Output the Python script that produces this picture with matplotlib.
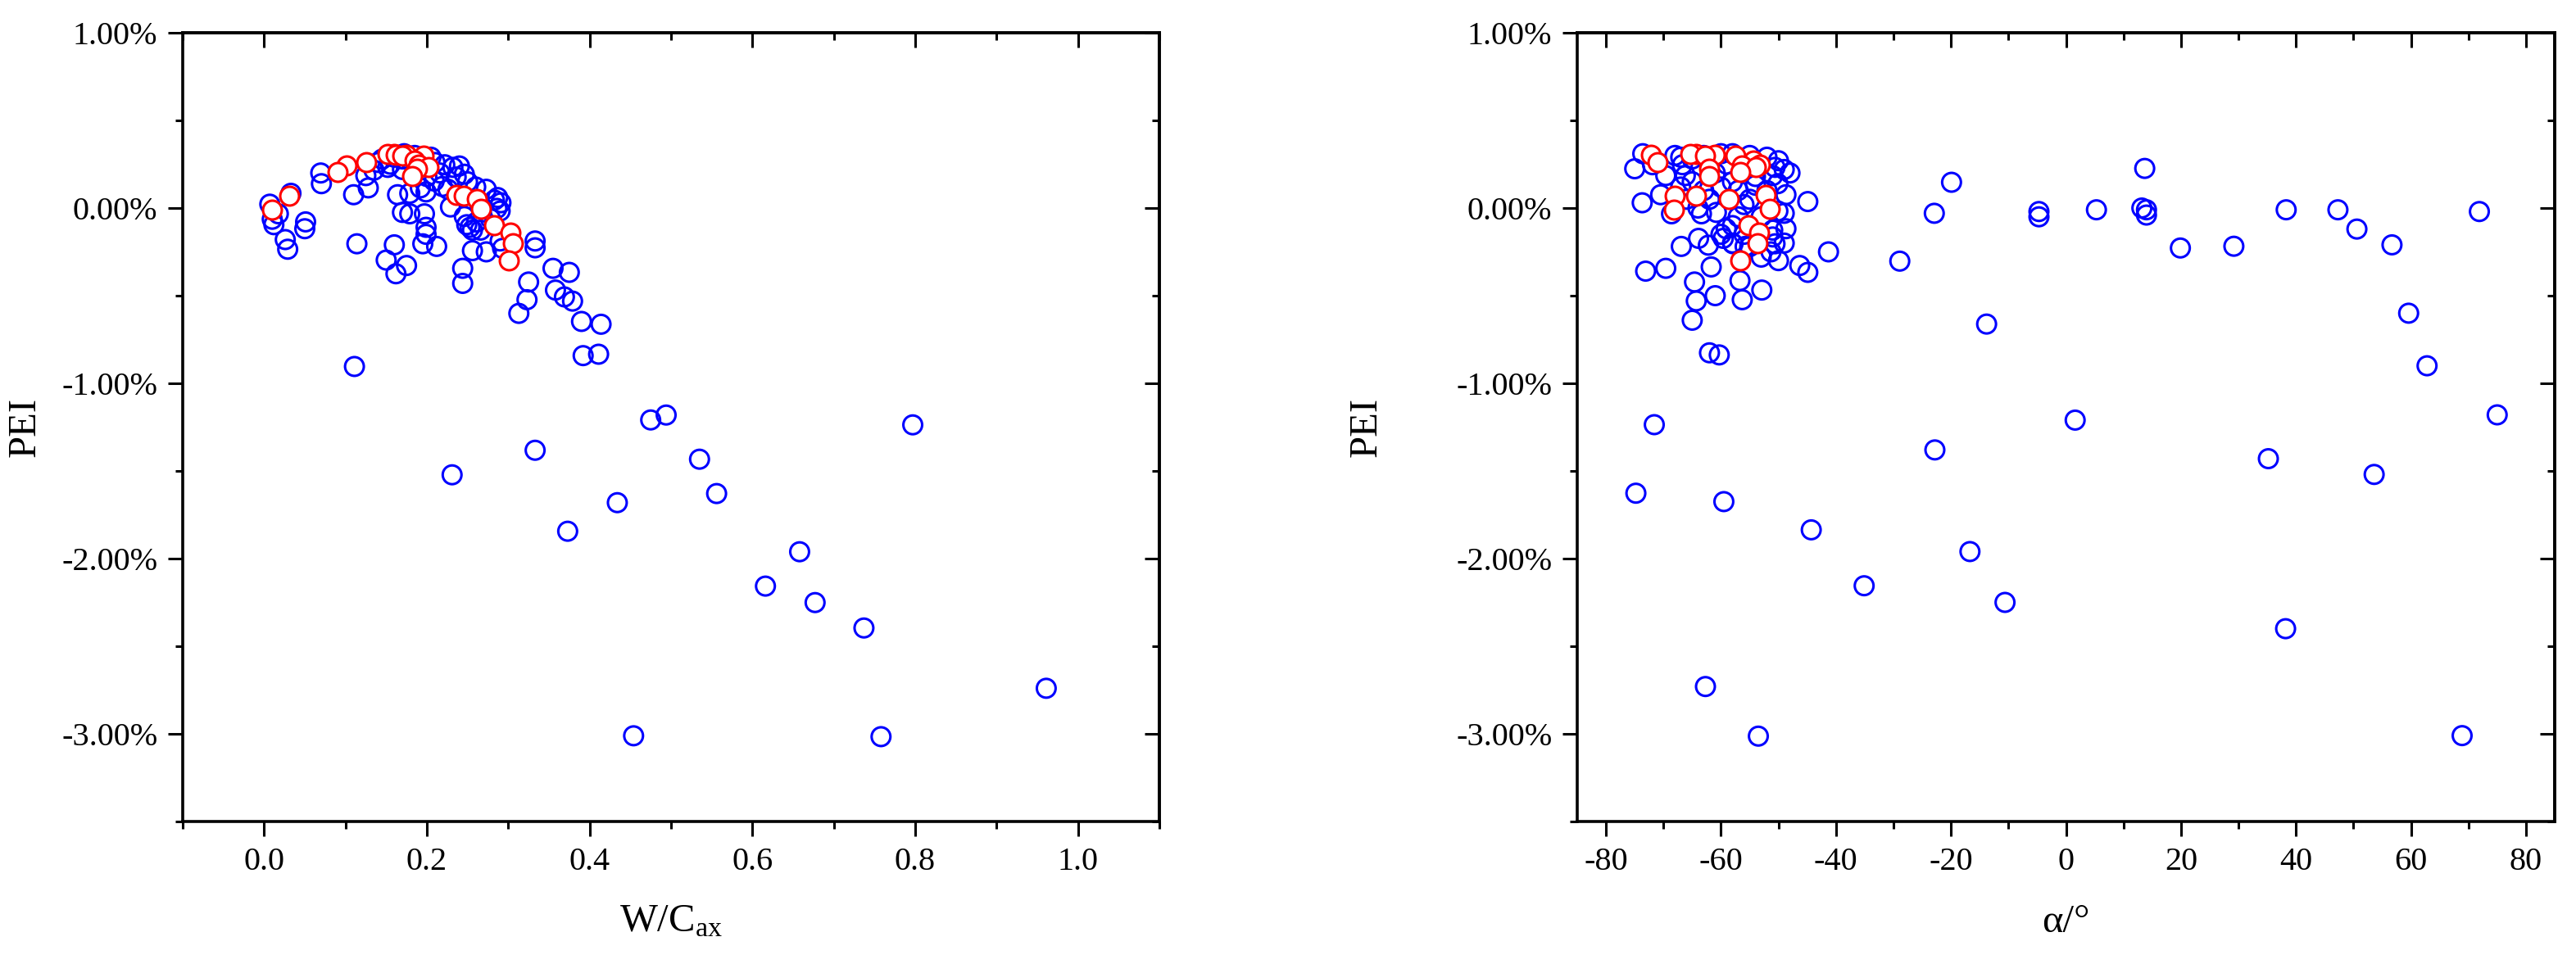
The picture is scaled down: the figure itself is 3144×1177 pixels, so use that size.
import numpy as np
import matplotlib.pyplot as plt
from matplotlib.ticker import MultipleLocator, FuncFormatter

plt.rcParams['font.family'] = ['Liberation Serif', 'DejaVu Serif']
plt.rcParams['mathtext.fontset'] = 'custom'
plt.rcParams['mathtext.rm'] = 'Liberation Serif'
plt.rcParams['mathtext.it'] = 'Liberation Serif:italic'

# ---- data (PEI in %) ----
# blue points, left panel: W/Cax vs PEI
w_blue = [0.494, 0.475, 0.797, 0.333, 0.231, 0.535, 0.556, 0.434, 0.373, 0.658,
          0.616, 0.677, 0.737, 0.961, 0.454, 0.758, 0.111,
          0.007, 0.012, 0.0175, 0.010, 0.033, 0.026, 0.029, 0.051, 0.050, 0.0696,
          0.0704, 0.110, 0.128, 0.114, 0.135, 0.145, 0.152, 0.164, 0.179, 0.192,
          0.199, 0.170, 0.179, 0.197, 0.199, 0.199, 0.195, 0.212, 0.160, 0.150,
          0.175, 0.162, 0.209, 0.216, 0.219, 0.232, 0.236, 0.246, 0.226, 0.229,
          0.246, 0.249, 0.256, 0.256, 0.244, 0.244, 0.273, 0.283, 0.286, 0.266,
          0.273, 0.290, 0.333, 0.333, 0.325, 0.323, 0.313, 0.355, 0.375, 0.358,
          0.369, 0.379, 0.390, 0.414, 0.392, 0.411,
          0.125, 0.140, 0.160, 0.170, 0.180, 0.210, 0.222, 0.240, 0.155, 0.170,
          0.190, 0.200, 0.250, 0.260, 0.287, 0.291, 0.290, 0.253, 0.261, 0.293,
          0.185, 0.205, 0.172, 0.265, 0.278]
pei_w_blue = [-1.181, -1.209, -1.237, -1.382, -1.522, -1.433, -1.629, -1.681, -1.844, -1.961,
              -2.157, -2.251, -2.396, -2.740, -3.011, -3.016, -0.904,
              0.022, -0.095, -0.033, -0.064, 0.084, -0.180, -0.235, -0.079, -0.118, 0.200,
              0.139, 0.076, 0.115, -0.204, 0.216, 0.279, 0.232, 0.076, 0.084, 0.115,
              0.092, -0.025, -0.033, -0.033, -0.110, -0.150, -0.204, -0.219, -0.210, -0.297,
              -0.328, -0.375, 0.154, 0.200, 0.123, 0.232, 0.177, 0.193, 0.107, 0.006,
              -0.048, -0.095, -0.126, -0.243, -0.344, -0.430, 0.107, 0.045, -0.002, -0.126,
              -0.250, -0.188, -0.188, -0.227, -0.422, -0.523, -0.601, -0.344, -0.367, -0.468,
              -0.507, -0.531, -0.647, -0.663, -0.842, -0.834,
              0.185, 0.260, 0.290, 0.280, 0.270, 0.260, 0.247, 0.240, 0.250, 0.220,
              0.240, 0.180, 0.150, 0.120, 0.060, 0.030, -0.017, -0.110, -0.080, -0.230,
              0.300, 0.290, 0.310, 0.020, -0.060]

# blue points, right panel: alpha vs PEI
a_blue = [-28.9, -22.9, -19.9, -13.8, -4.7, -4.7, 5.3, 13.7, 13.2, 14.0,
          14.0, 19.9, 29.2, 38.3, 47.3, 50.6, 56.7, 59.6, 62.8, 75.0,
          71.9, -22.8, 1.6, 35.2, 53.6, -16.7, -10.6, 38.2, 68.9, -71.6,
          -74.8, -59.5, -44.3, -35.1, -62.7, -53.5,
          -75.0, -73.6, -73.7, -73.1, -69.6, -70.5, -68.6, -71.9, -69.6, -66.7,
          -66.2, -66.9, -64.6, -64.3, -65.0, -61.0, -61.7, -63.9, -62.2, -63.4,
          -60.8, -59.1, -56.7, -56.3, -52.9, -62.0, -60.3, -51.0, -48.7, -50.6,
          -51.3, -46.3, -44.9, -41.3, -44.9, -48.7, -51.0, -50.6, -50.1, -50.1,
          -68.0, -67.0, -65.0, -63.0, -60.0, -58.0, -55.0, -52.0, -50.0, -49.0,
          -48.0, -67.0, -65.0, -63.0, -62.0, -60.0, -58.0, -57.0, -56.0, -55.0,
          -54.0, -53.0, -57.0, -58.0, -56.0, -55.0, -58.0, -60.0, -64.0, -66.0,
          -61.0, -59.0, -54.0, -52.0, -49.0, -49.0, -50.0, -53.0, -57.9, -59.6,
          -55.8, -51.0]
pei_a_blue = [-0.303, -0.030, 0.147, -0.662, -0.020, -0.050, -0.010, 0.226, 0.000, -0.010,
              -0.040, -0.228, -0.218, -0.010, -0.010, -0.120, -0.210, -0.600, -0.900, -1.180,
              -0.020, -1.380, -1.210, -1.430, -1.520, -1.960, -2.250, -2.400, -3.010, -1.236,
              -1.627, -1.675, -1.836, -2.155, -2.730, -3.013,
              0.224, 0.310, 0.030, -0.360, -0.344, 0.076, -0.033, 0.247, 0.185, 0.247,
              0.185, -0.219, -0.422, -0.530, -0.640, -0.500, -0.336, -0.173, -0.212, -0.033,
              -0.025, -0.118, -0.414, -0.523, -0.468, -0.826, -0.838, -0.126, -0.118, -0.204,
              -0.250, -0.328, -0.367, -0.250, 0.037, 0.076, 0.185, 0.232, 0.139, -0.017,
              0.300, 0.290, 0.280, 0.300, 0.310, 0.310, 0.300, 0.290, 0.270, 0.220,
              0.200, 0.120, 0.150, 0.100, 0.050, 0.120, 0.150, 0.100, 0.020, 0.050,
              0.130, -0.050, -0.050, -0.100, -0.150, -0.220, -0.200, -0.150, 0.000, 0.050,
              0.200, 0.250, 0.180, 0.100, -0.030, -0.200, -0.300, -0.280, -0.204, -0.173,
              -0.219, -0.165]

# red points (shared PEI)
pei_red = [0.310, 0.310, 0.305, 0.302, 0.298, 0.300, 0.270, 0.263, 0.245, 0.247,
           0.232, 0.222, 0.205, 0.180, 0.076, 0.071, 0.071, 0.053, -0.005, -0.009,
           -0.100, -0.138, -0.200, -0.300]
w_red = [0.160, 0.152, 0.175, 0.162, 0.196, 0.170, 0.185, 0.125, 0.101, 0.190,
         0.202, 0.188, 0.090, 0.182, 0.236, 0.031, 0.245, 0.261, 0.266, 0.010,
         0.283, 0.303, 0.306, 0.301]
a_red = [-64.3, -65.3, -61.0, -72.2, -62.7, -57.5, -54.4, -71.0, -56.3, -53.2,
         -53.9, -62.0, -56.7, -62.0, -52.2, -68.1, -64.3, -58.6, -51.5, -68.2,
         -55.2, -53.4, -53.6, -56.7]

fig = plt.figure(figsize=(31.44, 11.77), dpi=100)
W, H = 3144, 1177
ax1 = fig.add_axes([223 / W, 1 - 1003 / H, 1192 / W, 963 / H])
ax2 = fig.add_axes([1925 / W, 1 - 1003 / H, 1193 / W, 963 / H])


def style(ax, xmaj, xmin):
    ax.set_ylim(-3.5, 1.0)
    ax.yaxis.set_major_locator(MultipleLocator(1))
    ax.yaxis.set_minor_locator(MultipleLocator(0.5))
    ax.yaxis.set_major_formatter(FuncFormatter(lambda v, p: '%.2f%%' % v))
    ax.xaxis.set_major_locator(MultipleLocator(xmaj))
    ax.xaxis.set_minor_locator(MultipleLocator(xmin))
    for sp in ax.spines.values():
        sp.set_linewidth(2.6)
    ax.tick_params(which='major', direction='out', length=13, width=2.2,
                   labelsize=29, pad=9)
    ax.tick_params(which='minor', direction='out', length=6.5, width=2.2)
    # mirrored ticks pointing inwards on top / right
    top = ax.secondary_xaxis('top')
    top.xaxis.set_major_locator(MultipleLocator(xmaj))
    top.xaxis.set_minor_locator(MultipleLocator(xmin))
    top.tick_params(which='major', direction='in', length=13, width=2.2, labeltop=False)
    top.tick_params(which='minor', direction='in', length=6.5, width=2.2)
    right = ax.secondary_yaxis('right')
    right.yaxis.set_major_locator(MultipleLocator(1))
    right.yaxis.set_minor_locator(MultipleLocator(0.5))
    right.tick_params(which='major', direction='in', length=13, width=2.2, labelright=False)
    right.tick_params(which='minor', direction='in', length=6.5, width=2.2)
    for sec in (top, right):
        for sp in sec.spines.values():
            sp.set_linewidth(2.6)


ax1.scatter(w_blue, pei_w_blue, s=16.5 ** 2, facecolors='none', edgecolors='#0000ff',
            linewidths=2.2, zorder=3)
ax1.scatter(w_red, pei_red, s=16.5 ** 2, facecolors='white', edgecolors='#ff0000',
            linewidths=2.2, zorder=4)
ax1.set_xlim(-0.1, 1.1)
style(ax1, 0.2, 0.1)
ax1.xaxis.set_major_formatter(FuncFormatter(lambda v, p: '%.1f' % v))
ax1.set_xlabel('W/C$_{\\mathrm{ax}}$', fontsize=35, labelpad=24)
ax1.set_ylabel('PEI', fontsize=35)
ax1.yaxis.set_label_coords(-0.143, 0.5)

ax2.scatter(a_blue, pei_a_blue, s=16.5 ** 2, facecolors='none', edgecolors='#0000ff',
            linewidths=2.2, zorder=3)
ax2.scatter(a_red, pei_red, s=16.5 ** 2, facecolors='white', edgecolors='#ff0000',
            linewidths=2.2, zorder=4)
ax2.set_xlim(-85, 85)
style(ax2, 20, 10)
ax2.xaxis.set_major_formatter(FuncFormatter(lambda v, p: '%d' % v))
ax2.set_xlabel('α/°', fontsize=35, labelpad=24)
ax2.set_ylabel('PEI', fontsize=35)
ax2.yaxis.set_label_coords(-0.197, 0.5)

fig.savefig('out.png', dpi=100)
